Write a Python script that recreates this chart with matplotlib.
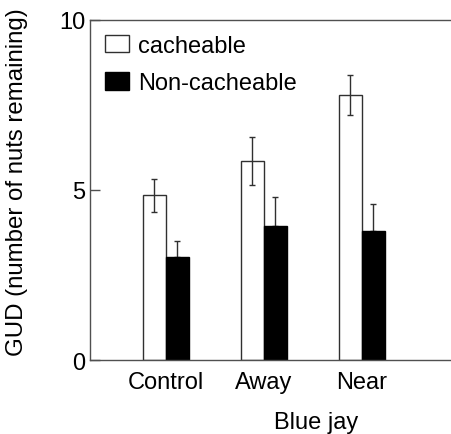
import matplotlib
matplotlib.use("Agg")
import matplotlib.pyplot as plt
import numpy as np

plt.rcParams['font.family'] = ['Liberation Sans', 'DejaVu Sans']

groups = ["Control", "Away", "Near"]
cacheable = [4.84, 5.85, 7.79]
cacheable_err = [0.48, 0.71, 0.58]
noncacheable = [3.04, 3.94, 3.79]
noncacheable_err = [0.47, 0.84, 0.80]

fig = plt.figure(figsize=(4.51, 4.35), dpi=100)
ax = fig.add_axes([0.1985, 0.170, 0.8015, 0.782])

x = np.arange(len(groups))
w = 0.235
spine_col = "#505050"

ax.bar(x - w/2, cacheable, w, color="white", edgecolor="#303030", lw=1.0,
       label="cacheable", zorder=2)
ax.errorbar(x - w/2, cacheable, yerr=cacheable_err, fmt="none", ecolor="#303030",
            elinewidth=1.0, capsize=2.5, capthick=1.0, zorder=3)
ax.bar(x + w/2, noncacheable, w, color="black", edgecolor="black", lw=1.0,
       label="Non-cacheable", zorder=2)
ax.errorbar(x + w/2, noncacheable, yerr=[np.zeros(3), noncacheable_err], fmt="none",
            ecolor="#303030", elinewidth=1.0, capsize=2.5, capthick=1.0, zorder=1)

ax.set_xlim(-0.78, 2.91)
ax.set_ylim(0, 10)
ax.set_yticks([0, 5, 10])
ax.set_xticks(x)
ax.set_xticklabels(groups)
ax.tick_params(axis="y", direction="in", length=7, width=1.0, color=spine_col,
               labelsize=17, pad=3)
ax.tick_params(axis="x", length=0, labelsize=17, pad=8)

for s in ["left", "bottom", "top"]:
    ax.spines[s].set_color(spine_col)
    ax.spines[s].set_linewidth(1.0)
ax.spines["right"].set_visible(False)

ax.set_ylabel("GUD (number of nuts remaining)", fontsize=17.3)
ax.yaxis.set_label_coords(-0.17, 0.527)
ax.set_xlabel("Blue jay", fontsize=17)
ax.xaxis.set_label_coords(0.627, -0.15)

ax.legend(loc="upper left", bbox_to_anchor=(0.043, 0.957), frameon=False,
          fontsize=17, handlelength=1.0, handleheight=0.75, handletextpad=0.38,
          labelspacing=0.66, borderpad=0, borderaxespad=0)

fig.savefig("out.png", dpi=100)
